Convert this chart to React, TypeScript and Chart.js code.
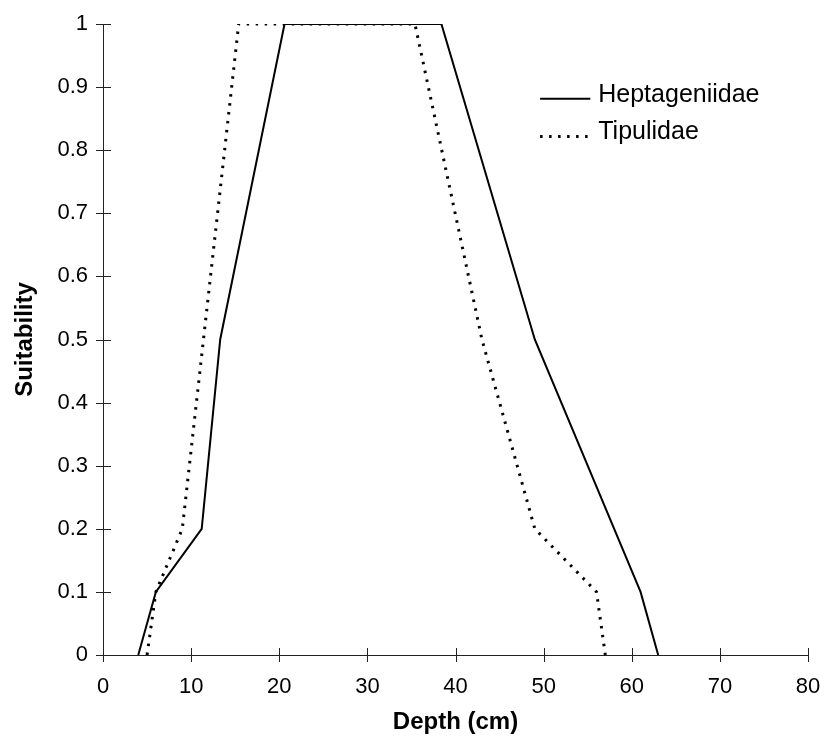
import React, { useEffect, useRef } from "react";
import { Chart, registerables } from "chart.js";

Chart.register(...registerables);

const FONT = "'Liberation Sans', Arial, Helvetica, sans-serif";

const seriesNames = ["Heptageniidae", "Tipulidae"];
const heptDepth = [4, 6, 11.2, 13.3, 20.6, 38.4, 49, 61, 63];
const heptSuit = [0, 0.1, 0.2, 0.5, 1, 1, 0.5, 0.1, 0];
const tipDepth = [5, 6, 9, 15.4, 35.4, 43, 49, 56, 57];
const tipSuit = [0, 0.1, 0.2, 1, 1, 0.5, 0.2, 0.1, 0];
const xTicks = [0, 10, 20, 30, 40, 50, 60, 70, 80];
const yTicks = [0, 0.1, 0.2, 0.3, 0.4, 0.5, 0.6, 0.7, 0.8, 0.9, 1];
const yTickLabels = ["0", "0.1", "0.2", "0.3", "0.4", "0.5", "0.6", "0.7", "0.8", "0.9", "1"];
const xTitle = "Depth (cm)";
const yTitle = "Suitability";

const crossTicks = {
  id: "crossTicks",
  afterDraw(chart: any) {
    const ctx = chart.ctx;
    const xs = chart.scales.x;
    const ys = chart.scales.y;
    const area = chart.chartArea;
    ctx.save();
    ctx.strokeStyle = "#222";
    ctx.lineWidth = 1;
    ctx.beginPath();
    xTicks.forEach((v) => {
      const px = Math.round(xs.getPixelForValue(v)) + 0.5;
      ctx.moveTo(px, area.bottom - 7);
      ctx.lineTo(px, area.bottom + 7);
    });
    yTicks.forEach((v) => {
      const py = Math.round(ys.getPixelForValue(v)) + 0.5;
      ctx.moveTo(area.left - 7, py);
      ctx.lineTo(area.left + 8, py);
    });
    ctx.stroke();
    ctx.restore();
  },
};

const legendPlugin = {
  id: "customLegend",
  afterDraw(chart: any) {
    const ctx = chart.ctx;
    const xs = chart.scales.x;
    const ys = chart.scales.y;
    const x0 = xs.getPixelForValue(49.6);
    const x1 = xs.getPixelForValue(55.3);
    const tx = xs.getPixelForValue(56.2);
    const rows = [ys.getPixelForValue(0.888), ys.getPixelForValue(0.828)];
    ctx.save();
    ctx.font = `25px ${FONT}`;
    ctx.textBaseline = "middle";
    ctx.textAlign = "left";
    chart.data.datasets.forEach((ds: any, i: number) => {
      const y = rows[i];
      ctx.strokeStyle = "#000";
      ctx.lineWidth = ds.borderWidth;
      ctx.setLineDash(ds.borderDash || []);
      ctx.beginPath();
      ctx.moveTo(x0, y + 4);
      ctx.lineTo(x1, y + 4);
      ctx.stroke();
      ctx.setLineDash([]);
      ctx.fillStyle = "#000";
      ctx.fillText(ds.label, tx, y);
    });
    ctx.restore();
  },
};

export default function App() {
  const ref = useRef<HTMLCanvasElement | null>(null);
  useEffect(() => {
    if (!ref.current) return;
    const chart = new Chart(ref.current, {
      type: "line",
      data: {
        datasets: [
          {
            label: seriesNames[0],
            data: heptDepth.map((x, i) => ({ x, y: heptSuit[i] })),
            borderColor: "#000",
            borderWidth: 2,
            pointRadius: 0,
            tension: 0,
            fill: false,
          },
          {
            label: seriesNames[1],
            data: tipDepth.map((x, i) => ({ x, y: tipSuit[i] })),
            borderColor: "#000",
            borderWidth: 3,
            borderDash: [2.5, 6.5],
            pointRadius: 0,
            tension: 0,
            fill: false,
          },
        ],
      },
      options: {
        animation: false,
        responsive: true,
        maintainAspectRatio: false,
        layout: { padding: { left: 0, top: 24, right: 18, bottom: 0 } },
        plugins: { legend: { display: false }, tooltip: { enabled: false } },
        scales: {
          x: {
            type: "linear",
            min: 0,
            max: 80,
            afterBuildTicks: (s: any) => {
              s.ticks = xTicks.map((v) => ({ value: v }));
            },
            afterFit: (s: any) => {
              s.height = 94;
              s.paddingLeft = 0;
              s.paddingRight = 0;
            },
            grid: { display: false, drawTicks: false },
            border: { display: true, color: "#222", width: 1 },
            ticks: {
              color: "#000",
              padding: 19,
              maxRotation: 0,
              font: { family: FONT, size: 22 },
              callback: (v: any) => String(v),
            },
            title: {
              display: true,
              text: xTitle,
              color: "#000",
              font: { family: FONT, size: 24, weight: "bold" },
              padding: { top: 0, bottom: 12 },
            },
          },
          y: {
            type: "linear",
            min: 0,
            max: 1,
            afterBuildTicks: (s: any) => {
              s.ticks = yTicks.map((v) => ({ value: v }));
            },
            afterFit: (s: any) => {
              s.width = 103;
              s.paddingTop = 0;
              s.paddingBottom = 0;
            },
            grid: { display: false, drawTicks: false },
            border: { display: true, color: "#222", width: 1 },
            ticks: {
              color: "#000",
              padding: 15,
              font: { family: FONT, size: 22 },
              callback: (v: any) => {
                const idx = yTicks.findIndex((t) => Math.abs(t - v) < 1e-9);
                return idx >= 0 ? yTickLabels[idx] : "";
              },
            },
            title: {
              display: true,
              text: yTitle,
              color: "#000",
              font: { family: FONT, size: 24, weight: "bold" },
              padding: { top: 11, bottom: 0 },
            },
          },
        },
      },
      plugins: [crossTicks, legendPlugin],
    });
    return () => chart.destroy();
  }, []);
  return (
    <div style={{ position: "fixed", left: 0, top: 0, width: 826, height: 749, background: "#fff" }}>
      <canvas ref={ref} />
    </div>
  );
}
